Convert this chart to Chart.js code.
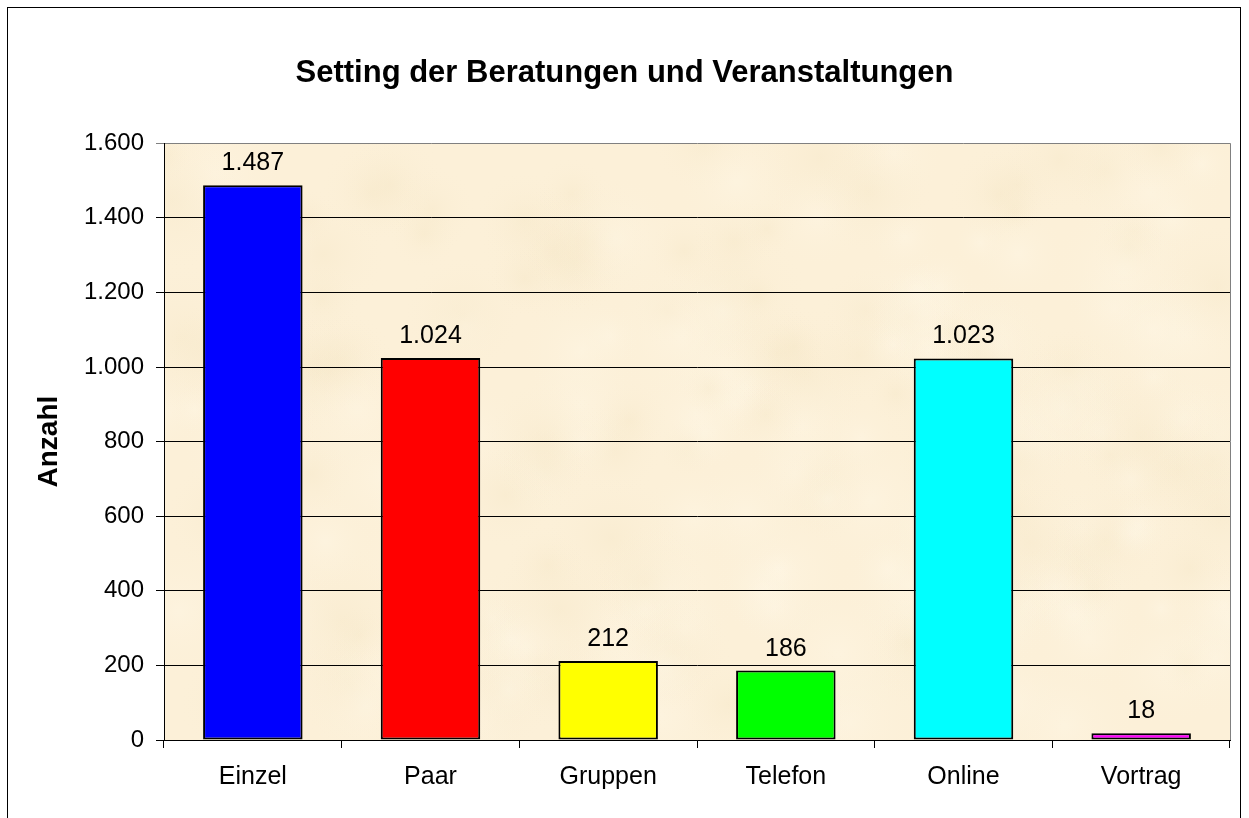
<!DOCTYPE html>
<html>
<head>
<meta charset="utf-8">
<script src="https://cdn.jsdelivr.net/npm/chart.js@4"></script>
<style>
  html, body { margin: 0; padding: 0; background: #fff; }
  #wrap { width: 1249px; height: 818px; }
</style>
</head>
<body>
<div id="wrap"><canvas id="setting" width="1249" height="818"></canvas></div>
<script>
// Setting der Beratungen und Veranstaltungen
var categories = ["Einzel", "Paar", "Gruppen", "Telefon", "Online", "Vortrag"];
var anzahl = [1487, 1024, 212, 186, 1023, 18];
var barColors = ["#0000FF", "#FF0000", "#FFFF00", "#00FF00", "#00FFFF", "#FF00FF"];
var yTicks = [0, 200, 400, 600, 800, 1000, 1200, 1400, 1600];

function deNum(v) {
    return String(v).replace(/\B(?=(\d{3})+(?!\d))/g, ".");
}

// parchment look behind the plot
function parchment(ctx, area) {
    ctx.save();
    ctx.fillStyle = "#FCF0D8";
    ctx.fillRect(area.left, area.top, area.width, area.height);
    ctx.beginPath();
    ctx.rect(area.left, area.top, area.width, area.height);
    ctx.clip();
    var seed = 11;
    function rnd() { seed = (seed * 16807) % 2147483647; return seed / 2147483647; }
    for (var i = 0; i < 220; i++) {
        var x = area.left + rnd() * area.width;
        var y = area.top + rnd() * area.height;
        var r = 25 + rnd() * 55;
        var g = ctx.createRadialGradient(x, y, 0, x, y, r);
        var dark = rnd() > 0.5;
        g.addColorStop(0, dark ? "rgba(240,224,186,0.22)" : "rgba(255,249,234,0.35)");
        g.addColorStop(1, "rgba(252,240,216,0)");
        ctx.fillStyle = g;
        ctx.fillRect(x - r, y - r, r * 2, r * 2);
    }
    ctx.restore();
}

var framePlugin = {
    id: "frame",
    beforeDraw: function (chart) {
        var ctx = chart.ctx;
        ctx.save();
        ctx.fillStyle = "#fff";
        ctx.fillRect(0, 0, chart.width, chart.height);
        ctx.strokeStyle = "#000";
        ctx.lineWidth = 1;
        ctx.strokeRect(7.5, 7.5, 1233, 900);
        ctx.restore();
        parchment(ctx, chart.chartArea);
    },
    afterDatasetsDraw: function (chart) {
        var ctx = chart.ctx;
        var a = chart.chartArea;
        ctx.save();
        // right border of the plot
        ctx.strokeStyle = "#808080";
        ctx.lineWidth = 1;
        ctx.beginPath();
        ctx.moveTo(Math.round(a.right) + 0.5, a.top);
        ctx.lineTo(Math.round(a.right) + 0.5, a.bottom);
        ctx.stroke();
        // value labels
        ctx.fillStyle = "#000";
        ctx.font = "25px 'Liberation Sans', Arial, sans-serif";
        ctx.textAlign = "center";
        ctx.textBaseline = "middle";
        chart.getDatasetMeta(0).data.forEach(function (bar, i) {
            ctx.fillText(deNum(anzahl[i]), bar.x, bar.y - 22);
        });
        ctx.restore();
    }
};

var chart = new Chart("setting", {
    type: "bar",
    data: {
        labels: categories,
        datasets: [{
            data: anzahl,
            backgroundColor: barColors,
            borderColor: "#000",
            borderWidth: 2,
            borderSkipped: false,
            categoryPercentage: 1,
            barPercentage: 0.56
        }]
    },
    options: {
        responsive: false,
        animation: false,
        layout: { padding: { left: 19, right: 19, top: 0, bottom: 0 } },
        plugins: {
            legend: { display: false },
            tooltip: { enabled: false },
            title: {
                display: true,
                text: "Setting der Beratungen und Veranstaltungen",
                color: "#000",
                font: { family: "'Liberation Sans', Arial, sans-serif", size: 31, weight: "bold" },
                padding: { top: 55, bottom: 51 }
            }
        },
        scales: {
            x: {
                grid: {
                    offset: true,
                    drawOnChartArea: false,
                    drawTicks: true,
                    tickLength: 8,
                    color: "#000"
                },
                border: { color: "#000", width: 1 },
                ticks: {
                    color: "#000",
                    padding: 14,
                    maxRotation: 0,
                    font: { family: "'Liberation Sans', Arial, sans-serif", size: 25 }
                },
                afterFit: function (scale) { scale.height = 78; }
            },
            y: {
                min: 0,
                max: 1600,
                afterBuildTicks: function (scale) {
                    scale.ticks = yTicks.map(function (v) { return { value: v }; });
                },
                grid: {
                    tickLength: 8,
                    color: function (c) {
                        return c.tick && c.tick.value === 1600 ? "#808080" : "#000";
                    },
                    lineWidth: 1
                },
                border: { color: "#000", width: 1 },
                ticks: {
                    color: "#000",
                    padding: 12,
                    font: { family: "'Liberation Sans', Arial, sans-serif", size: 24 },
                    callback: function (v) { return deNum(v); }
                },
                title: {
                    display: true,
                    text: "Anzahl",
                    color: "#000",
                    padding: { top: 13, bottom: 0 },
                    font: { family: "'Liberation Sans', Arial, sans-serif", size: 28, weight: "bold" }
                },
                afterFit: function (scale) { scale.width = 145; }
            }
        }
    },
    plugins: [framePlugin]
});
</script>
</body>
</html>
